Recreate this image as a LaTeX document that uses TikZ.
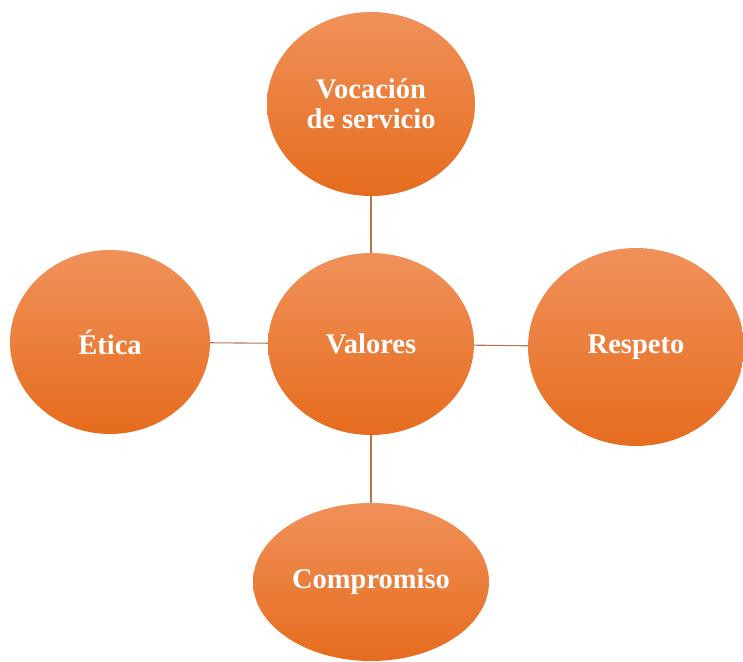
\documentclass[tikz,border=0pt]{standalone}
\usepackage{fontspec}
\setmainfont{Liberation Serif}
\usetikzlibrary{shapes.geometric}
\definecolor{naranjaTop}{HTML}{F0915A}
\definecolor{naranjaMid}{HTML}{F37D2E}
\definecolor{naranjaBot}{HTML}{E66C1D}
\definecolor{enlace}{HTML}{B8764E}
\begin{document}
\begin{tikzpicture}[x=1pt, y=-1pt,
    valor/.style={ellipse, inner sep=0pt, top color=naranjaTop, middle color=naranjaMid,
        bottom color=naranjaBot, text=white, align=center,
        font=\fontsize{28.5}{30}\selectfont\bfseries},
    enlace/.style={draw=enlace, line width=1.1pt}]
        \useasboundingbox (0,0) rectangle (743,661);
        % Centre
        \node[valor, minimum width=206, minimum height=182] (valores) at (371,344) {Valores};
        % Around it
        \node[valor, minimum width=208, minimum height=184] (vocacion) at (371,104) {Vocaci\'on\\de servicio};
        \node[valor, minimum width=200, minimum height=184] (etica) at (110,342) {\'Etica};
        \node[valor, minimum width=216, minimum height=198] (respeto) at (636,347) {Respeto};
        \node[valor, minimum width=236, minimum height=158] (compromiso) at (371,582) {Compromiso};
        % Links
        \draw[enlace] (vocacion) -- (valores);
        \draw[enlace] (etica) -- (valores);
        \draw[enlace] (valores) -- (respeto);
        \draw[enlace] (valores) -- (compromiso);
\end{tikzpicture}
\end{document}
